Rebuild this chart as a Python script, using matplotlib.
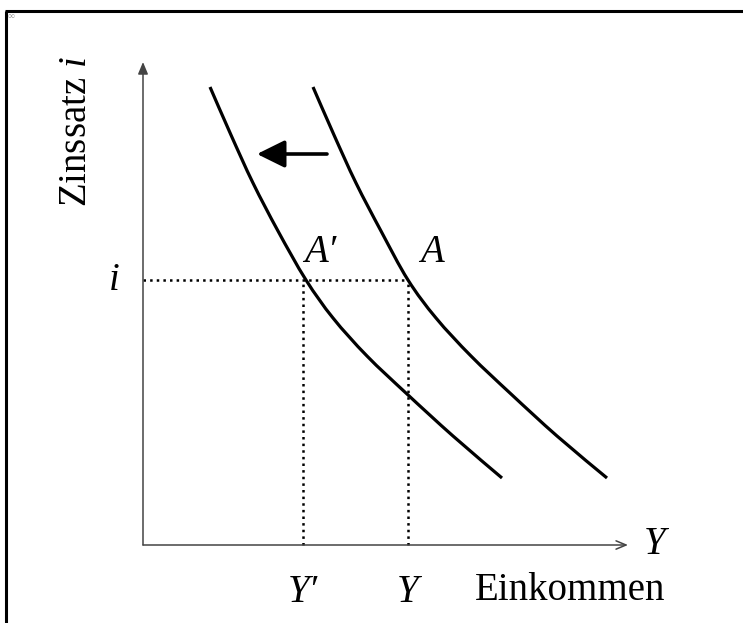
import matplotlib
matplotlib.use('Agg')
import matplotlib.pyplot as plt
from matplotlib.path import Path
from matplotlib.patches import PathPatch

plt.rcParams['font.family'] = ['Liberation Serif', 'DejaVu Serif']
plt.rcParams['mathtext.fontset'] = 'custom'
plt.rcParams['mathtext.rm'] = 'Liberation Serif'
plt.rcParams['mathtext.it'] = 'Liberation Serif:italic'

# Koordinaten: Ursprung im Schnittpunkt der Achsen (Pixel des Originals)
# IS-Kurve vorher (rechts) und nachher (links)
is_alt_x = [170, 191, 213, 238, 265, 293, 328, 368, 414, 464]
is_alt_y = [458, 410, 362, 314, 265, 227, 189, 151, 109, 67]
is_neu_x = [67, 88, 110, 135, 163, 190, 224, 264, 310, 359]
is_neu_y = [458, 410, 362, 314, 265, 227, 189, 151, 109, 67]

zins_i = 265
einkommen_y = 265
einkommen_y_strich = 160


def glatte_kurve(xs, ys):
    pts = list(zip(xs, ys))
    verts = [pts[0]]
    codes = [Path.MOVETO]
    for k in range(len(pts) - 1):
        p0 = pts[k - 1] if k > 0 else pts[k]
        p1 = pts[k]
        p2 = pts[k + 1]
        p3 = pts[k + 2] if k + 2 < len(pts) else pts[k + 1]
        c1 = (p1[0] + (p2[0] - p0[0]) / 6, p1[1] + (p2[1] - p0[1]) / 6)
        c2 = (p2[0] - (p3[0] - p1[0]) / 6, p2[1] - (p3[1] - p1[1]) / 6)
        verts += [c1, c2, p2]
        codes += [Path.CURVE4] * 3
    return Path(verts, codes)


fig = plt.figure(figsize=(7.43, 6.23), dpi=100)
ax = fig.add_axes([0, 0, 1, 1])
ax.set_xlim(-143, 600)
ax.set_ylim(-78, 545)
ax.axis('off')

# Rahmen oben und links
ax.plot([-138, 600], [534, 534], color='black', lw=2.2, solid_capstyle='butt')
ax.plot([-137, -137], [534, -78], color='black', lw=2.2, solid_capstyle='butt')
ax.text(-135, 528, '∞', fontsize=7, color='#999999', ha='left', va='center')

# Achsen mit Pfeilen
axis_col = '#444444'
ax.annotate('', xy=(0, 483), xytext=(0, 0),
            arrowprops=dict(arrowstyle='-|>,head_length=0.6,head_width=0.25',
                            color=axis_col, lw=1.1, mutation_scale=12,
                            shrinkA=0, shrinkB=0))
ax.annotate('', xy=(485, 0), xytext=(0, 0),
            arrowprops=dict(arrowstyle='->,head_length=0.6,head_width=0.25',
                            color=axis_col, lw=1.1, mutation_scale=12,
                            shrinkA=0, shrinkB=0))

# gepunktete Hilfslinien
dot = dict(color='black', lw=1.8, linestyle=':')
ax.plot([0, einkommen_y], [zins_i, zins_i], **dot)
ax.plot([einkommen_y_strich, einkommen_y_strich], [0, zins_i], **dot)
ax.plot([einkommen_y, einkommen_y], [0, zins_i], **dot)

# Kurven
for xs, ys in [(is_alt_x, is_alt_y), (is_neu_x, is_neu_y)]:
    ax.add_patch(PathPatch(glatte_kurve(xs, ys), facecolor='none',
                           edgecolor='black', lw=2.3, capstyle='butt'))

# Verschiebungspfeil
ax.annotate('', xy=(114, 391), xytext=(184, 391),
            arrowprops=dict(arrowstyle='-|>,head_length=0.85,head_width=0.42',
                            color='black', lw=2.6, mutation_scale=20,
                            shrinkA=0, shrinkB=0))

# Beschriftungen
fs = 28
ax.text(-66, 413, 'Zinssatz $i$', fontsize=fs, rotation=90,
        ha='center', va='center')
ax.text(-29, zins_i - 1, 'i', fontsize=fs, style='italic', ha='center', va='center')
ax.text(512, 0, 'Y', fontsize=fs, style='italic', ha='center', va='center')
ax.text(einkommen_y_strich, -47, 'Y′', fontsize=fs, style='italic',
        ha='center', va='center')
ax.text(einkommen_y, -47, 'Y', fontsize=fs, style='italic',
        ha='center', va='center')
ax.text(427, -45, 'Einkommen', fontsize=fs, ha='center', va='center')
ax.text(177, 292, 'A′', fontsize=fs, style='italic', ha='center', va='center')
ax.text(289, 292, 'A', fontsize=fs, style='italic', ha='center', va='center')

fig.savefig('out.png', dpi=100)
